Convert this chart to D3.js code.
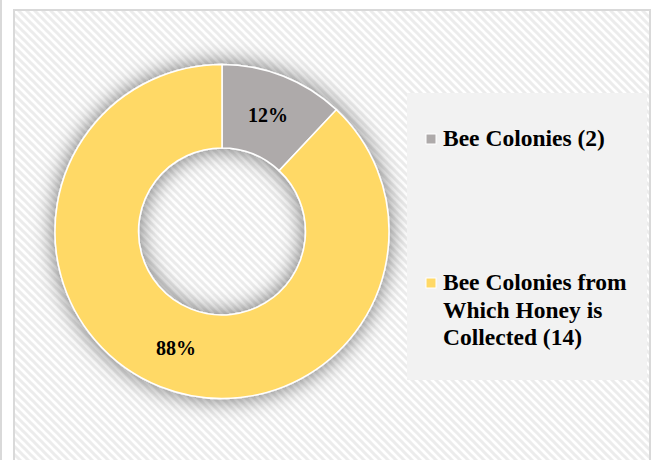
<!DOCTYPE html>
<html>
<head>
<meta charset="utf-8">
<script src="https://cdn.jsdelivr.net/npm/d3@7/dist/d3.min.js"></script>
<style>
  html, body { margin: 0; padding: 0; background: #ffffff; }
  svg { display: block; }
</style>
</head>
<body>
<script>
// Chart data
const categories = ["Bee Colonies", "Bee Colonies from Which Honey is Collected"];
const counts = [2, 14];
const percents = [12, 88];
const colors = ["#AEAAAA", "#FFD966"];

const W = 657, H = 460;
const svg = d3.select("body").append("svg").attr("width", W).attr("height", H);
const defs = svg.append("defs");

// Diagonal stripe fill for the chart area
const pat = defs.append("pattern")
  .attr("id", "stripes").attr("patternUnits", "userSpaceOnUse")
  .attr("width", 8).attr("height", 8);
pat.append("rect").attr("width", 8).attr("height", 8).attr("fill", "#ffffff");
pat.append("path")
  .attr("d", "M-2,-2 L10,10 M-2,6 L2,10 M6,-2 L10,2")
  .attr("stroke", "#ececec").attr("stroke-width", 3);

// Soft shadow around the ring
const f = defs.append("filter").attr("id", "glow")
  .attr("x", "-30%").attr("y", "-30%").attr("width", "160%").attr("height", "160%");
f.append("feGaussianBlur").attr("in", "SourceAlpha").attr("stdDeviation", 11).attr("result", "b");
f.append("feFlood").attr("flood-color", "#000").attr("flood-opacity", 0.55).attr("result", "c");
f.append("feComposite").attr("in", "c").attr("in2", "b").attr("operator", "in").attr("result", "s");
const fm = f.append("feMerge");
fm.append("feMergeNode").attr("in", "s");
fm.append("feMergeNode").attr("in", "SourceGraphic");

// Left page rule
svg.append("rect").attr("x", 0).attr("y", 0).attr("width", 2).attr("height", H).attr("fill", "#d9d9d9");

// Chart frame
svg.append("rect")
  .attr("x", 14).attr("y", 10).attr("width", 636).attr("height", 470)
  .attr("fill", "url(#stripes)").attr("stroke", "#d9d9d9").attr("stroke-width", 2);

// Donut
const cx = 222, cy = 231.5, rOuter = 167, rInner = 83.5;
const pie = d3.pie().sort(null).value(d => d.value);
const arcs = pie(categories.map((c, i) => ({ name: c, value: percents[i], color: colors[i], pct: percents[i] })));
const arc = d3.arc().innerRadius(rInner).outerRadius(rOuter);

const g = svg.append("g").attr("transform", `translate(${cx},${cy})`);
g.append("g").attr("filter", "url(#glow)")
  .selectAll("path").data(arcs).join("path")
  .attr("d", arc)
  .attr("fill", d => d.data.color)
  .attr("stroke", "#ffffff").attr("stroke-width", 1.5);

const font = "'Liberation Serif', 'Times New Roman', serif";
g.selectAll("text.pct").data(arcs).join("text")
  .attr("class", "pct")
  .attr("transform", d => `translate(${arc.centroid(d)})`)
  .attr("text-anchor", "middle").attr("dy", "0.35em")
  .style("font-family", font).style("font-weight", "bold").style("font-size", "20px")
  .attr("fill", "#000")
  .text(d => d.data.pct + "%");

// Legend
const lx = 407, ly = 93, lw = 240, lh = 287;
svg.append("rect").attr("x", lx).attr("y", ly).attr("width", lw).attr("height", lh).attr("fill", "#f2f2f2");

const legendTops = [146, 290];
const lineH = 27.5;
const maxW = 196;
categories.forEach((c, i) => {
  const label = `${c} (${counts[i]})`;
  const t = svg.append("text")
    .style("font-family", font).style("font-weight", "bold").style("font-size", "23.5px")
    .attr("fill", "#000");
  // word wrap
  const words = label.split(" ");
  let line = [], lineNo = 0;
  let ts = t.append("tspan").attr("x", 443).attr("y", legendTops[i]);
  words.forEach(w => {
    line.push(w);
    ts.text(line.join(" "));
    if (ts.node().getComputedTextLength() > maxW && line.length > 1) {
      line.pop();
      ts.text(line.join(" "));
      line = [w];
      lineNo++;
      ts = t.append("tspan").attr("x", 443).attr("y", legendTops[i] + lineNo * lineH).text(w);
    }
  });
  svg.append("rect")
    .attr("x", 426).attr("y", legendTops[i] - 12).attr("width", 10).attr("height", 10)
    .attr("fill", colors[i]).attr("stroke", "#ffffff").attr("stroke-width", 1);
});
</script>
</body>
</html>
